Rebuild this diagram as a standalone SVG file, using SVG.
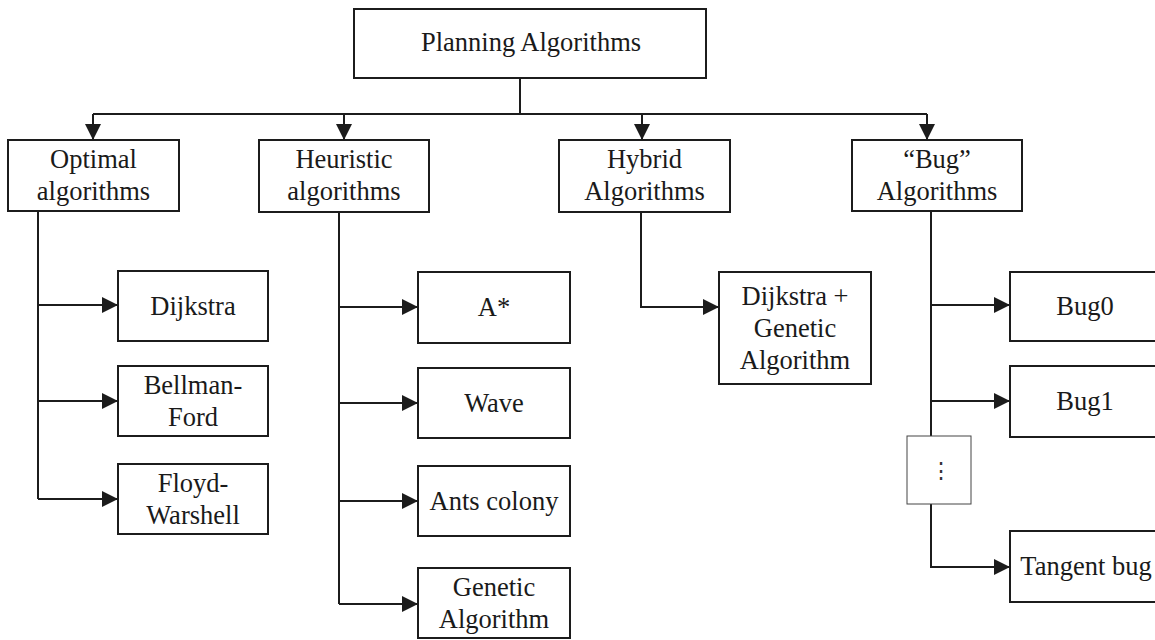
<svg xmlns="http://www.w3.org/2000/svg" width="1155" height="640" viewBox="0 0 1155 640">
  <style>
    .box { fill: #ffffff; stroke: #1c1c1c; stroke-width: 2; }
    .thin { fill: #ffffff; stroke: #444444; stroke-width: 1; }
    .lbl { font-family: "Liberation Serif", "Times New Roman", serif; font-size: 26.5px; fill: #1a1a1a; text-anchor: middle; }
    .dots { font-family: "DejaVu Serif", serif; font-size: 22px; fill: #333333; text-anchor: middle; }
    .wire { fill: none; stroke: #1c1c1c; stroke-width: 2; }
    .arrow { fill: none; stroke: #1c1c1c; stroke-width: 2; marker-end: url(#head); }
  </style>
  <defs>
    <marker id="head" markerUnits="userSpaceOnUse" markerWidth="16" markerHeight="16" refX="16" refY="8" orient="auto">
      <path d="M0,0 L16,8 L0,16 z" fill="#1c1c1c"/>
    </marker>
  </defs>
  <rect width="1155" height="640" fill="#ffffff"/>

  <!-- connectors -->
  <g id="connectors">
    <path class="wire" d="M520,78 V114"/>
    <path class="wire" d="M93,114 H927"/>
    <path class="arrow" d="M93,114 V140"/>
    <path class="arrow" d="M344,114 V140"/>
    <path class="arrow" d="M642,114 V140"/>
    <path class="arrow" d="M927,114 V140"/>

    <path class="wire" d="M38,211 V499"/>
    <path class="arrow" d="M38,305 H118"/>
    <path class="arrow" d="M38,401 H118"/>
    <path class="arrow" d="M38,499 H118"/>

    <path class="wire" d="M339,212 V604"/>
    <path class="arrow" d="M339,307 H418"/>
    <path class="arrow" d="M339,403 H418"/>
    <path class="arrow" d="M339,501 H418"/>
    <path class="arrow" d="M339,604 H418"/>

    <path class="arrow" d="M641,212 V307 H719"/>

    <path class="wire" d="M931,211 V436"/>
    <path class="arrow" d="M931,305 H1010"/>
    <path class="arrow" d="M931,401 H1010"/>
    <path class="arrow" d="M931,504 V567 H1010"/>
  </g>

  <!-- root -->
  <g id="planning">
    <rect class="box" x="354" y="9" width="352" height="69"/>
    <text class="lbl" x="531" y="51">Planning Algorithms</text>
  </g>

  <!-- categories -->
  <g id="optimal">
    <rect class="box" x="8" y="140" width="171" height="71"/>
    <text class="lbl" x="93.5" y="168">Optimal</text>
    <text class="lbl" x="93.5" y="200">algorithms</text>
  </g>
  <g id="heuristic">
    <rect class="box" x="259" y="140" width="170" height="72"/>
    <text class="lbl" x="344" y="168">Heuristic</text>
    <text class="lbl" x="344" y="200">algorithms</text>
  </g>
  <g id="hybrid">
    <rect class="box" x="559" y="140" width="171" height="72"/>
    <text class="lbl" x="644.5" y="168">Hybrid</text>
    <text class="lbl" x="644.5" y="200">Algorithms</text>
  </g>
  <g id="bug">
    <rect class="box" x="852" y="140" width="170" height="71"/>
    <text class="lbl" x="937" y="168">“Bug”</text>
    <text class="lbl" x="937" y="200">Algorithms</text>
  </g>

  <!-- optimal algorithms -->
  <g id="dijkstra">
    <rect class="box" x="118" y="271" width="150" height="70"/>
    <text class="lbl" x="193" y="315">Dijkstra</text>
  </g>
  <g id="bellman-ford">
    <rect class="box" x="118" y="366" width="150" height="70"/>
    <text class="lbl" x="193" y="394">Bellman-</text>
    <text class="lbl" x="193" y="426">Ford</text>
  </g>
  <g id="floyd-warshall">
    <rect class="box" x="118" y="464" width="150" height="70"/>
    <text class="lbl" x="193" y="492">Floyd-</text>
    <text class="lbl" x="193" y="524">Warshell</text>
  </g>

  <!-- heuristic algorithms -->
  <g id="a-star">
    <rect class="box" x="418" y="272" width="152" height="71"/>
    <text class="lbl" x="494" y="316">A*</text>
  </g>
  <g id="wave">
    <rect class="box" x="418" y="368" width="152" height="70"/>
    <text class="lbl" x="494" y="412">Wave</text>
  </g>
  <g id="ants-colony">
    <rect class="box" x="418" y="466" width="152" height="70"/>
    <text class="lbl" x="494" y="510">Ants colony</text>
  </g>
  <g id="genetic">
    <rect class="box" x="418" y="568" width="152" height="70"/>
    <text class="lbl" x="494" y="596">Genetic</text>
    <text class="lbl" x="494" y="628">Algorithm</text>
  </g>

  <!-- hybrid algorithm -->
  <g id="dijkstra-genetic">
    <rect class="box" x="719" y="272" width="152" height="112"/>
    <text class="lbl" x="795" y="305">Dijkstra +</text>
    <text class="lbl" x="795" y="337">Genetic</text>
    <text class="lbl" x="795" y="369">Algorithm</text>
  </g>

  <!-- bug algorithms -->
  <g id="bug0">
    <rect class="box" x="1010" y="272" width="152" height="69"/>
    <text class="lbl" x="1085" y="315">Bug0</text>
  </g>
  <g id="bug1">
    <rect class="box" x="1010" y="366" width="152" height="71"/>
    <text class="lbl" x="1085" y="410">Bug1</text>
  </g>
  <g id="ellipsis">
    <rect class="thin" x="907" y="436" width="64" height="68"/>
    <text class="dots" x="941" y="478">⋮</text>
  </g>
  <g id="tangent-bug">
    <rect class="box" x="1010" y="531" width="152" height="71"/>
    <text class="lbl" x="1086" y="575">Tangent bug</text>
  </g>
</svg>
